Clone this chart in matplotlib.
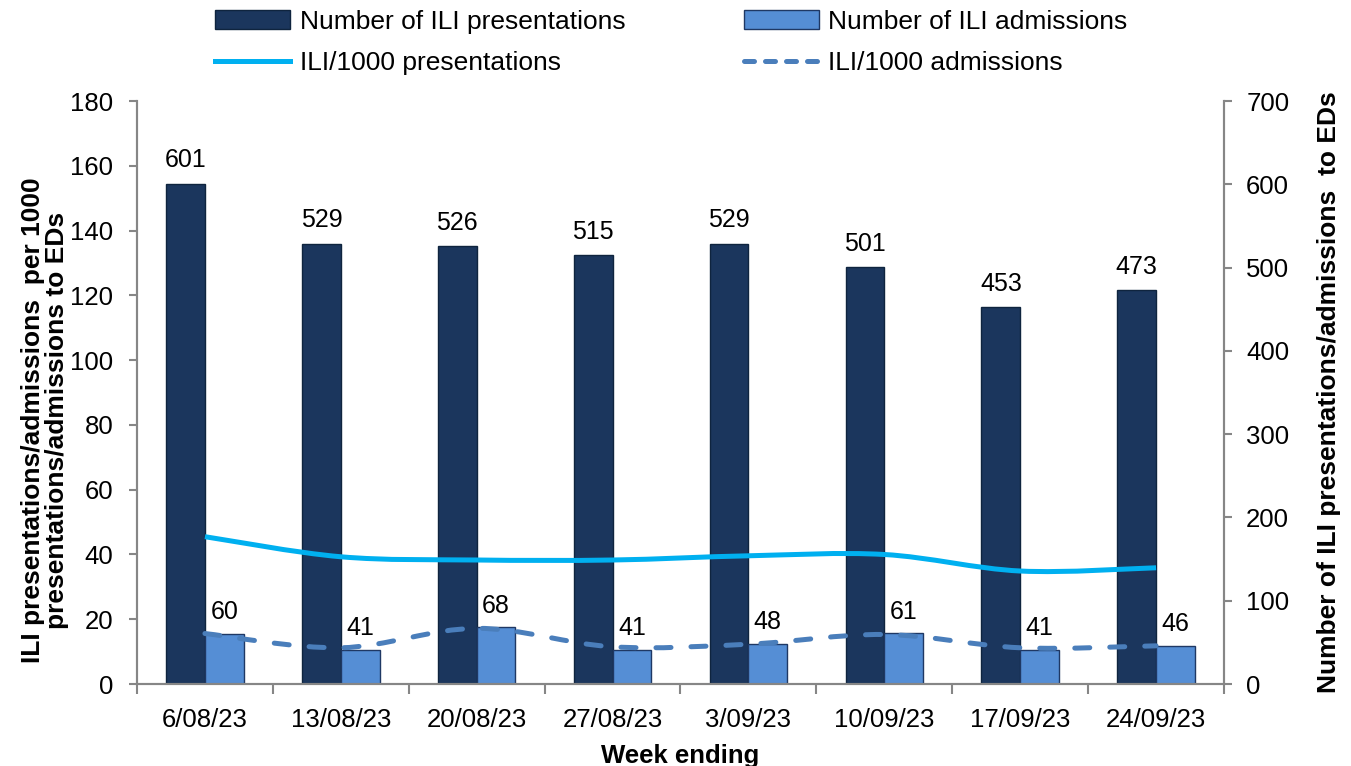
import numpy as np
import matplotlib
matplotlib.use("Agg")
import matplotlib.pyplot as plt
from matplotlib.path import Path
from matplotlib.patches import PathPatch
from matplotlib.lines import Line2D
from matplotlib.patches import Patch

plt.rcParams['font.family'] = ['Liberation Sans', 'DejaVu Sans']

# weekly ED figures
weeks = ["6/08/23", "13/08/23", "20/08/23", "27/08/23",
         "3/09/23", "10/09/23", "17/09/23", "24/09/23"]
ili_presentations = [601, 529, 526, 515, 529, 501, 453, 473]
ili_admissions = [60, 41, 68, 41, 48, 61, 41, 46]
rate_presentations = [45.5, 39.3, 38.3, 38.3, 39.6, 40.0, 34.9, 35.9]
rate_admissions = [15.6, 11.2, 17.2, 11.5, 12.3, 15.3, 11.2, 11.8]

DARK = "#1B365D"
LIGHT = "#558ED5"
CYAN = "#00B0F0"
STEEL = "#4A7EBB"
AXIS_GREY = "#868686"


def smooth_path(xs, ys):
    """Bezier path through the points, Catmull-Rom style (like Excel's smoothed line)."""
    pts = np.column_stack([xs, ys]).astype(float)
    n = len(pts)
    verts = [pts[0]]
    codes = [Path.MOVETO]
    for i in range(n - 1):
        p0 = pts[i - 1] if i > 0 else pts[i]
        p1 = pts[i]
        p2 = pts[i + 1]
        p3 = pts[i + 2] if i + 2 < n else pts[i + 1]
        c1 = p1 + (p2 - p0) / 6.0
        c2 = p2 - (p3 - p1) / 6.0
        verts += [c1, c2, p2]
        codes += [Path.CURVE4] * 3
    return Path(verts, codes)


fig = plt.figure(figsize=(13.51, 7.66), dpi=100)
ax = fig.add_axes([0.1014, 0.107, 0.8046, 0.761])
axb = ax.twinx()
ax.set_zorder(axb.get_zorder() + 1)
ax.patch.set_visible(False)

x = np.arange(len(weeks))
w = 0.285

# bars on the right-hand axis
b1 = axb.bar(x - w / 2, ili_presentations, width=w, color=DARK,
             edgecolor="#0F243E", linewidth=1.0)
b2 = axb.bar(x + w / 2, ili_admissions, width=w, color=LIGHT,
             edgecolor="#1F3864", linewidth=1.0)
for rect, v in zip(b1, ili_presentations):
    axb.annotate(str(v), (rect.get_x() + rect.get_width() / 2, v),
                 xytext=(0, 8), textcoords="offset points",
                 ha="center", va="bottom", fontsize=18)
for rect, v in zip(b2, ili_admissions):
    axb.annotate(str(v), (rect.get_x() + rect.get_width() / 2, v),
                 xytext=(0, 7), textcoords="offset points",
                 ha="center", va="bottom", fontsize=18)

# smoothed rate lines on the left-hand axis
ax.add_patch(PathPatch(smooth_path(x, rate_presentations), fill=False,
                       edgecolor=CYAN, linewidth=3.6, capstyle="butt"))
ax.add_patch(PathPatch(smooth_path(x, rate_admissions), fill=False,
                       edgecolor=STEEL, linewidth=3.6,
                       linestyle=(0, (3.0, 4.0)), capstyle="round"))

ax.set_xlim(-0.5, len(weeks) - 0.5)
ax.set_ylim(0, 180)
ax.set_yticks(np.arange(0, 181, 20))
axb.set_ylim(0, 700)
axb.set_yticks(np.arange(0, 701, 100))

# category labels centred, ticks on the boundaries
ax.set_xticks(x)
ax.set_xticklabels(weeks, fontsize=18.5)
ax.set_xticks(np.arange(-0.5, len(weeks)), minor=True)
ax.tick_params(axis="x", which="major", length=0, pad=17)
ax.tick_params(axis="x", which="minor", length=7, width=1.5, color=AXIS_GREY)

ax.tick_params(axis="y", labelsize=18.5, length=6, width=1.5, color=AXIS_GREY, pad=11)
axb.tick_params(axis="y", labelsize=18.5, length=6, width=1.5, color=AXIS_GREY, pad=10)

for a in (ax, axb):
    a.spines["top"].set_visible(False)
    for s in ("left", "right", "bottom"):
        a.spines[s].set_color(AXIS_GREY)
        a.spines[s].set_linewidth(1.5)

ax.set_ylabel("ILI presentations/admissions  per 1000\npresentations/admissions to EDs",
              fontsize=19, fontweight="bold", linespacing=0.95)
ax.yaxis.set_label_coords(-0.063, 0.453)
axb.set_ylabel("Number of ILI presentations/admissions  to EDs",
               fontsize=19, fontweight="bold", labelpad=20)
ax.set_xlabel("Week ending", fontsize=18.5, fontweight="bold", labelpad=9)

handles = [
    Patch(facecolor=DARK, edgecolor="#0F243E", label="Number of ILI presentations"),
    Line2D([], [], color=CYAN, linewidth=3.6, label="ILI/1000 presentations"),
    Patch(facecolor=LIGHT, edgecolor="#1F3864", label="Number of ILI admissions"),
    Line2D([], [], color=STEEL, linewidth=3.6, linestyle=(0, (2.0, 2.2)),
           dash_capstyle="round", label="ILI/1000 admissions"),
]
fig.legend(handles=handles, loc="upper center", bbox_to_anchor=(0.497, 1.018),
           ncol=2, frameon=False, fontsize=19, handlelength=2.85,
           handleheight=0.7, handletextpad=0.35, columnspacing=4.5,
           labelspacing=0.65)

fig.savefig("out.png", dpi=100)
